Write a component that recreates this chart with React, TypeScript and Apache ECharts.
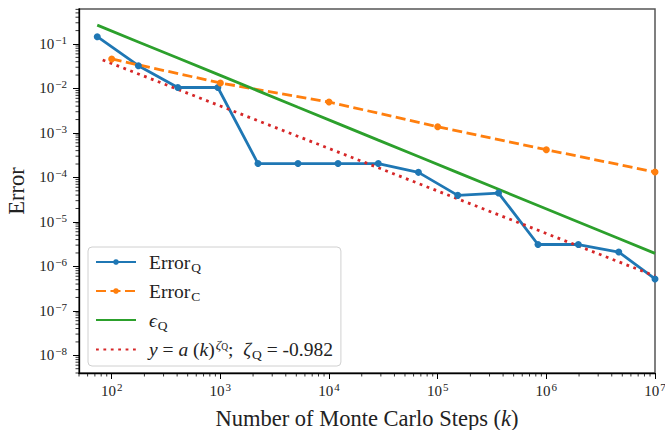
import React, { useEffect, useRef } from "react";
import * as echarts from "echarts";

// ---- data ----
const kQ = [73.6, 176, 406, 948, 2220, 5180, 12100, 28400, 66500, 153000, 363000, 838000, 1970000, 4640000, 10000000];
const errorQ = [0.146, 0.0325, 0.0105, 0.0105, 2.05e-4, 2.05e-4, 2.05e-4, 2.05e-4, 1.3e-4, 3.95e-5, 4.45e-5, 3.1e-6, 3.1e-6, 2.1e-6, 5.2e-7];
const kC = [100, 1000, 10000, 100000, 1000000, 10000000];
const errorC = [0.046, 0.0133, 4.96e-3, 1.38e-3, 4.2e-4, 1.32e-4];
const epsQ = [0.266, 0.111, 0.0483, 0.0207, 8.83e-3, 3.78e-3, 1.62e-3, 6.9e-4, 2.95e-4, 1.28e-4, 5.4e-5, 2.34e-5, 9.95e-6, 4.22e-6, 1.96e-6];
const kFit = [82.6, 1000, 10000, 100000, 1000000, 10000000];
const fitQ = [0.0437, 4.03e-3, 4.47e-4, 4.94e-5, 5.48e-6, 6.07e-7];

const seriesNames = ["ErrorQ", "ErrorC", "epsQ", "fit"];
const legendLabels: Record<string, string> = {
  ErrorQ: "{tf|Error}{sub|Q}",
  ErrorC: "{tf|Error}{sub|C}",
  epsQ: "{if|ϵ}{sub|Q}",
  fit: "{if4|y}{t4| = }{i4|a}{t4| (}{i4|k}{t4|)}{sup|ζ}{supsub|Q}{t4|;  }{i4|ζ}{sub|Q}{t4| = -0.982}",
};

const X_MIN = 50;
const X_MAX = 1e7;
const Y_MIN = 4e-9;
const Y_MAX = 0.612;

const COLORS = ["#1f77b4", "#ff7f0e", "#2ca02c", "#d62728"];
const FONT = '"Liberation Serif", "DejaVu Serif", serif';

function minorTicks(lo: number, hi: number): number[] {
  const out: number[] = [];
  const e0 = Math.floor(Math.log10(lo)) - 1;
  const e1 = Math.ceil(Math.log10(hi)) + 1;
  for (let e = e0; e <= e1; e++) {
    for (let m = 2; m <= 9; m++) {
      const v = m * Math.pow(10, e);
      if (v >= lo * 0.9999 && v <= hi * 1.0001) out.push(v);
    }
  }
  return out;
}

function powLabel(v: number): string {
  const l = Math.log10(v);
  const e = Math.round(l);
  if (Math.abs(l - e) > 1e-6) return "";
  const s = e < 0 ? "\u2212" + -e : String(e);
  return `{b|10}{s|${s}}`;
}

const tickRich = {
  b: { fontFamily: FONT, fontSize: 15, lineHeight: 16, color: "#222" },
  s: { fontFamily: FONT, fontSize: 11, lineHeight: 11, padding: [0, 0, 8, 1], color: "#222" },
};

const LF = 19.5;
const LS = 13.5;

export default function App() {
  const ref = useRef<HTMLDivElement>(null);
  useEffect(() => {
    if (!ref.current) return;
    const chart = echarts.init(ref.current, undefined, { renderer: "svg" });
    const xMinor = minorTicks(X_MIN, X_MAX);
    const yMinor = minorTicks(Y_MIN, Y_MAX);

    const option: any = {
      animation: false,
      backgroundColor: "#fff",
      textStyle: { fontFamily: FONT },
      grid: {
        left: 79,
        right: 10,
        top: 9,
        bottom: 57,
        containLabel: false,
        outerBoundsMode: "none",
        show: true,
        borderColor: "#555",
        borderWidth: 1.5,
        backgroundColor: "transparent",
      },
      xAxis: {
        type: "log",
        logBase: 10,
        min: X_MIN,
        max: X_MAX,
        name: "Number of Monte Carlo Steps ({k|k})",
        nameLocation: "middle",
        nameGap: 34,
        nameTextStyle: {
          fontFamily: FONT,
          fontSize: 22.5,
          color: "#222",
          rich: { k: { fontFamily: FONT, fontSize: 22.5, fontStyle: "italic", color: "#222" } },
        },
        axisLine: { show: true, lineStyle: { color: "#000", width: 1.3 } },
        axisTick: { show: true, length: 6, lineStyle: { color: "#000", width: 1 } },
        minorTick: { show: false },
        splitLine: { show: false },
        axisLabel: { margin: 9.5, formatter: powLabel, rich: tickRich, showMinLabel: false, showMaxLabel: true },
      },
      yAxis: {
        type: "log",
        logBase: 10,
        min: Y_MIN,
        max: Y_MAX,
        name: "Error",
        nameLocation: "middle",
        nameGap: 50,
        nameTextStyle: { fontFamily: FONT, fontSize: 22.5, color: "#222" },
        axisLine: { show: true, lineStyle: { color: "#000", width: 1.3 } },
        axisTick: { show: true, length: 6, lineStyle: { color: "#000", width: 1 } },
        minorTick: { show: false },
        splitLine: { show: false },
        axisLabel: { margin: 12, formatter: powLabel, rich: tickRich, showMinLabel: false, showMaxLabel: false },
      },
      legend: {
        data: [
          { name: "ErrorQ" },
          { name: "ErrorC" },
          { name: "epsQ", itemStyle: { opacity: 0 } },
          { name: "fit", itemStyle: { opacity: 0 } },
        ],
        orient: "vertical",
        left: 88,
        top: 247,
        padding: [3, 8, 4, 7],
        itemGap: 5,
        itemWidth: 40,
        itemHeight: 7,
        backgroundColor: "rgba(255,255,255,0.85)",
        borderColor: "#d0d0d0",
        borderWidth: 1,
        borderRadius: 4,
        formatter: (name: string) => legendLabels[name],
        textStyle: {
          fontFamily: FONT,
          fontSize: LF,
          color: "#222",
          rich: {
            tf: { fontFamily: FONT, fontSize: LF, lineHeight: 20, padding: [0, 0, 0, 8], color: "#222" },
            if: { fontFamily: FONT, fontSize: LF, lineHeight: 20, fontStyle: "italic", padding: [0, 0, 0, 8], color: "#222" },
            sub: { fontFamily: FONT, fontSize: LS, lineHeight: 12, padding: [10, 0, 0, 1], color: "#222" },
            t4: { fontFamily: FONT, fontSize: LF, lineHeight: 20, color: "#222" },
            i4: { fontFamily: FONT, fontSize: LF, lineHeight: 20, fontStyle: "italic", color: "#222" },
            if4: { fontFamily: FONT, fontSize: LF, lineHeight: 20, fontStyle: "italic", padding: [0, 0, 0, 8], color: "#222" },
            sup: { fontFamily: FONT, fontSize: LS, lineHeight: 16, fontStyle: "italic", padding: [0, 0, 11, 1], color: "#222" },
            supsub: { fontFamily: FONT, fontSize: 9.5, lineHeight: 10, padding: [0, 0, 6, 0], color: "#222" },
          },
        },
      },
      series: [
        {
          name: "ErrorQ",
          type: "line",
          data: kQ.map((k, i) => [k, errorQ[i]]),
          symbol: "circle",
          symbolSize: 7,
          lineStyle: { color: COLORS[0], width: 2.8 },
          itemStyle: { color: COLORS[0] },
          z: 3,
        },
        {
          name: "ErrorC",
          type: "line",
          data: kC.map((k, i) => [k, errorC[i]]),
          symbol: "circle",
          symbolSize: 7,
          lineStyle: { color: COLORS[1], width: 2.8, type: [10, 4.5] },
          itemStyle: { color: COLORS[1] },
          z: 3,
        },
        {
          name: "epsQ",
          type: "line",
          data: kQ.map((k, i) => [k, epsQ[i]]),
          symbol: "none",
          lineStyle: { color: COLORS[2], width: 2.8 },
          itemStyle: { color: COLORS[2] },
          z: 3,
        },
        {
          name: "fit",
          type: "line",
          data: kFit.map((k, i) => [k, fitQ[i]]),
          symbol: "none",
          lineStyle: { color: COLORS[3], width: 2.8, type: [2.8, 4.6] },
          itemStyle: { color: COLORS[3] },
          z: 3,
        },
        {
          type: "custom",
          name: "xMinorTicks",
          silent: true,
          clip: false,
          data: xMinor.map((v) => [v, Y_MIN]),
          encode: { x: 0, y: 1 },
          renderItem: (_p: any, api: any) => {
            const p = api.coord([api.value(0), api.value(1)]);
            return {
              type: "line",
              shape: { x1: p[0], y1: p[1], x2: p[0], y2: p[1] + 3.5 },
              style: { stroke: "#000", lineWidth: 0.8 },
            };
          },
        },
        {
          type: "custom",
          name: "yMinorTicks",
          silent: true,
          clip: false,
          data: yMinor.map((v) => [X_MIN, v]),
          encode: { x: 0, y: 1 },
          renderItem: (_p: any, api: any) => {
            const p = api.coord([api.value(0), api.value(1)]);
            return {
              type: "line",
              shape: { x1: p[0], y1: p[1], x2: p[0] - 3.5, y2: p[1] },
              style: { stroke: "#000", lineWidth: 0.8 },
            };
          },
        },
      ],
    };
    chart.setOption(option);
    return () => chart.dispose();
  }, []);
  return (
    <div
      ref={ref}
      style={{ position: "fixed", left: 0, top: 0, width: 665, height: 430, background: "#fff" }}
    />
  );
}
